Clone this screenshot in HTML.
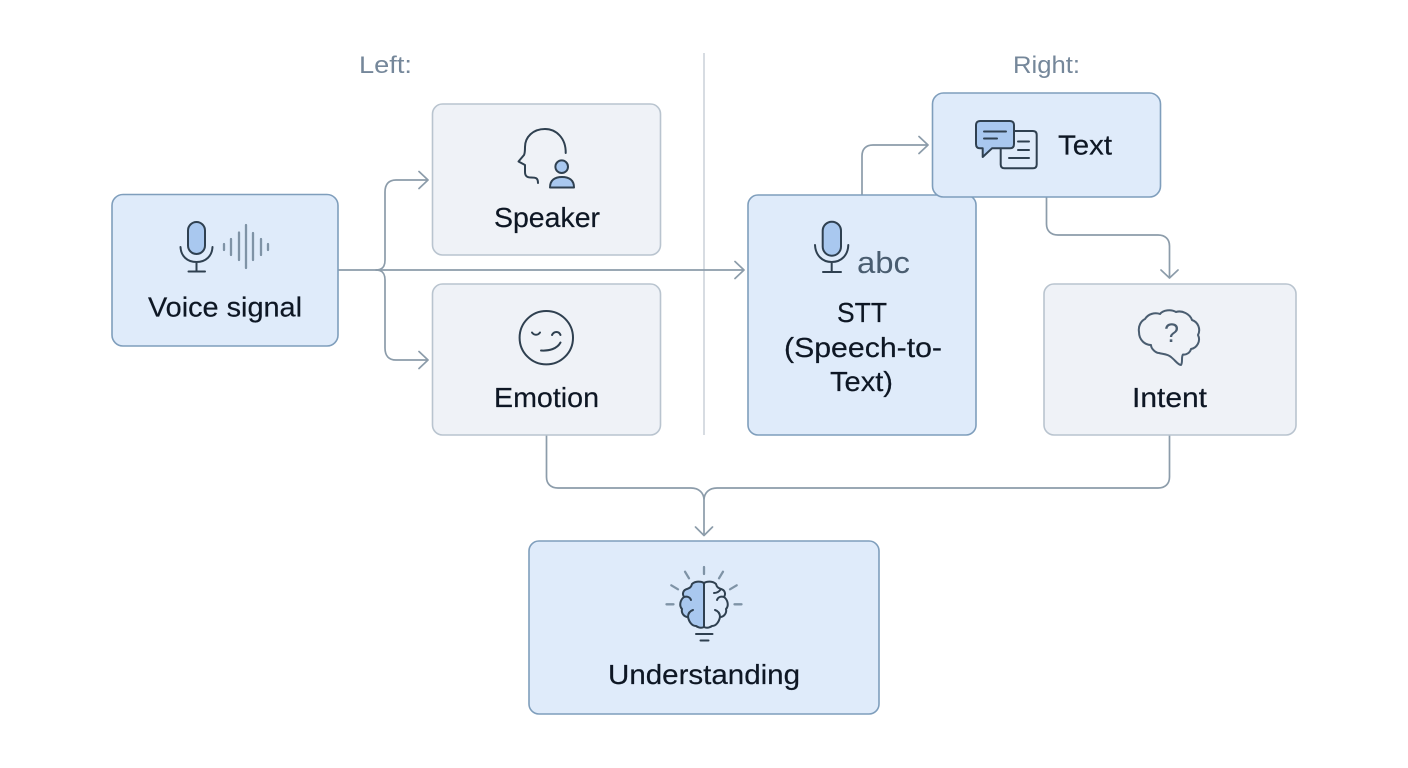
<!DOCTYPE html>
<html lang="en">
<head>
<meta charset="utf-8">
<title>Voice signal understanding diagram</title>
<style>
html,body{margin:0;padding:0;background:#fff;width:1408px;height:768px;overflow:hidden}
svg{display:block}
text{font-family:"Liberation Sans",sans-serif;fill:#0e1724;font-size:28px;stroke:#0e1724;stroke-width:.2px}
.lab{fill:#75879a;stroke:none;font-size:24px}
.blue{fill:#dfebfa;stroke:#7f9ebc;stroke-width:1.6}
.grey{fill:#eff2f7;stroke:#b9c4cf;stroke-width:1.6}
.c{fill:none;stroke:#8c9caa;stroke-width:1.7;stroke-linecap:round;stroke-linejoin:round}
.i{fill:none;stroke:#2f4050;stroke-width:2;stroke-linecap:round;stroke-linejoin:round}
.f{fill:#a9c8ef}
.w{fill:none;stroke:#7f93a6;stroke-width:2.300;stroke-linecap:round}
</style>
</head>
<body>
<svg width="1408" height="768" viewBox="0 0 1408 768" xmlns="http://www.w3.org/2000/svg">
<rect width="1408" height="768" fill="#fff"/>

<!-- divider and headings -->
<line x1="704" y1="53" x2="704" y2="435" stroke="#c6ced6" stroke-width="1.4"/>
<text class="lab" x="359" y="73" textLength="53" lengthAdjust="spacingAndGlyphs">Left:</text>
<text class="lab" x="1013" y="73" textLength="67" lengthAdjust="spacingAndGlyphs">Right:</text>

<!-- connectors -->
<path class="c" d="M338 270H744M735 261.500L744 270L735 278.500"/>
<path class="c" d="M376 270C382 270 385 267 385 260V192C385 184 389 180 396 180H428M419 171.500L428 180L419 188.500"/>
<path class="c" d="M376 270C382 270 385 273 385 280V348C385 356 389 360 396 360H428M419 351.500L428 360L419 368.500"/>
<path class="c" d="M862 195V156C862 149 866 145 873 145H928M919 136.500L928 145L919 153.500"/>
<path class="c" d="M1046.500 197V224C1046.500 231 1051 235 1058 235H1158C1165 235 1169.500 239 1169.500 246V278M1161 270L1169.500 278L1178 270"/>
<path class="c" d="M546.500 435V477C546.500 484 551 488 558 488H691C699 488 704 493 704 500M1169.500 435V477C1169.500 484 1165 488 1158 488H717C709 488 704 493 704 500V535M695.500 527L704 535.500L712.500 527"/>

<!-- boxes -->
<rect class="blue" x="112" y="194.500" width="226" height="151.500" rx="11"/>
<rect class="grey" x="432.500" y="104" width="228" height="151" rx="10"/>
<rect class="grey" x="432.500" y="284" width="228" height="151" rx="10"/>
<rect class="blue" x="748" y="195" width="228" height="240" rx="10"/>
<rect class="blue" x="932.500" y="93" width="228" height="104" rx="11"/>
<rect class="grey" x="1044" y="284" width="252" height="151" rx="10"/>
<rect class="blue" x="529" y="541" width="350" height="173" rx="10"/>

<!-- voice icon -->
<rect class="i f" x="188" y="222" width="17" height="32" rx="8.500"/>
<path class="i" d="M180.500 247C181 256 187 262 196.500 262C206 262 212 256 212.500 247M196.500 262V271.500M188.500 271.500H205"/>
<path class="w" d="M224 244V250M231 239V255M239 232.500V260M246 225V268M253 233V260M261 239V255M268 244V250"/>

<!-- speaker icon -->
<path class="i" d="M565.700 153C566 138 556 129 545 129C533 129 525 137 525 147C525 151 525 153 524 155L518.500 161.500L525 165V172C525 176 527 177.500 531 177.500C536 177.500 538 178 538 183"/>
<circle class="i f" cx="561.700" cy="166.700" r="6.300"/>
<path class="i f" d="M550 187.500C550 180 555 177 562 177C569 177 574 180 574 187.500Z"/>

<!-- emotion icon -->
<circle class="i" cx="546.300" cy="337.700" r="26.700"/>
<path class="i" d="M532 332.500C534 335.500 538 335.500 540 332.500M552 335C554 331 559 331 560.500 335M541 350.500C549 351 557 349 560.500 342.500"/>

<!-- STT icon -->
<rect class="i f" x="822.700" y="221.700" width="18.300" height="34" rx="9.100"/>
<path class="i" d="M815 245C815.500 255 822 262 831.700 262C841.500 262 848 255 848.300 245M831.700 262V272M823 272H841"/>
<text x="857" y="273" textLength="53" lengthAdjust="spacingAndGlyphs" style="fill:#4a5d70;stroke:none;font-size:31px">abc</text>

<!-- text icon -->
<path class="i" d="M1006 131H1033C1035.500 131 1036.700 132.500 1036.700 135V164.500C1036.700 167 1035.500 168.300 1033 168.300H1004.500C1002 168.300 1000.700 167 1000.700 164.500V148"/>
<path class="i f" d="M980 121H1010C1012.500 121 1014 122.500 1014 125V144C1014 147 1012.500 148.300 1010 148.300H992L982.700 157V148.300H980C977.500 148.300 976 147 976 144V125C976 122.500 977.500 121 980 121Z"/>
<path class="i" stroke-width="1.500" d="M984 131.500H1006M984 138.500H997M1018 141.500H1029M1018 150H1029M1009 158H1029"/>

<!-- intent icon -->
<path class="i" style="stroke:#4a5d70" d="M1145 319C1148 314 1155 312 1160 314C1163 310 1171 309 1176 312C1182 310 1190 314 1192 320C1198 322 1201 329 1198 335C1201 341 1197 348 1191 349C1190 353 1186 355 1183 354.500C1181 357 1183 362 1181 365C1178 365 1175 360 1171 357C1168 354 1162 354 1159 353C1156 353 1151 349 1151 345C1145 345 1139 340 1139 332C1138 326 1141 321 1145 319Z"/>
<text x="1164" y="342" textLength="15" lengthAdjust="spacingAndGlyphs" style="fill:#4a5d70;stroke:none;font-size:27px">?</text>

<!-- understanding icon -->
<path class="f" d="M704 583C701 581 695 581 692 584C691 588 689 588 687 589C683 590 682 594 684 597C680 600 679 606 682 609C681 613 684 617 688 617C689 622 692 626 696 626C699 628 702 628 704 627Z"/>
<path class="i" d="M704 583V627M704 583C701 581 695 581 692 584C691 588 689 588 687 589C683 590 682 594 684 597C680 600 679 606 682 609C681 613 684 617 688 617C689 622 692 626 696 626C699 628 702 628 704 627C706 628 709 628 712 626C716 626 719 622 720 617C724 617 727 613 726 609C729 606 728 600 724 597C726 594 725 590 721 589C719 588 717 588 716 584C713 581 707 581 704 583Z"/>
<path class="i" stroke-width="1.600" d="M684 597C687 596 690 597 691 600M688 617C688 613 690 611 693 610M721 589C719 592 717 593 714 593M724 597C721 596 718 597 717 600M720 617C720 613 718 611 715 610"/>
<path class="i" d="M696 634H712.500M700.500 640.500H708.500"/>
<path class="w" d="M704 567V574M685 571.700L689 578.300M723 571.700L719 578.300M671.300 585.300L678 589.300M736.700 585.300L730 589.300M666.500 604.300H673.500M734.500 604.300H741.500"/>

<!-- labels -->
<text x="148" y="316.500" textLength="154" lengthAdjust="spacingAndGlyphs">Voice signal</text>
<text x="494" y="227" textLength="106" lengthAdjust="spacingAndGlyphs">Speaker</text>
<text x="494" y="407" textLength="105" lengthAdjust="spacingAndGlyphs">Emotion</text>
<text x="1058" y="154.500" textLength="54" lengthAdjust="spacingAndGlyphs">Text</text>
<text x="837" y="322" textLength="50" lengthAdjust="spacingAndGlyphs">STT</text>
<text x="784" y="357" textLength="158" lengthAdjust="spacingAndGlyphs">(Speech-to-</text>
<text x="830" y="391" textLength="63" lengthAdjust="spacingAndGlyphs">Text)</text>
<text x="1132" y="407" textLength="75" lengthAdjust="spacingAndGlyphs">Intent</text>
<text x="608" y="684" textLength="192" lengthAdjust="spacingAndGlyphs">Understanding</text>
</svg>
</body>
</html>
